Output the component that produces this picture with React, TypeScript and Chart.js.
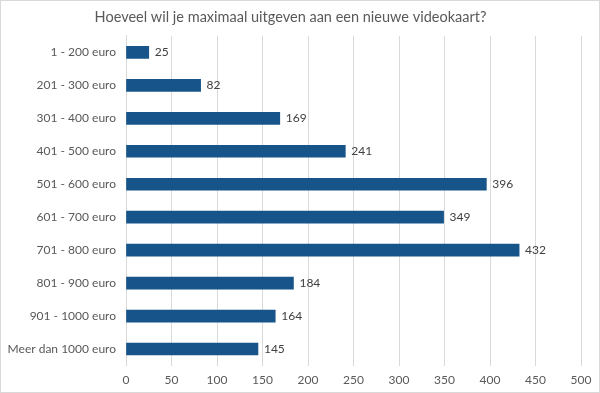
import React, { useEffect, useRef } from "react";
import { Chart, registerables } from "chart.js";

Chart.register(...registerables);

const title = "Hoeveel wil je maximaal uitgeven aan een nieuwe videokaart?";
const categories = [
  "1 - 200 euro",
  "201 - 300 euro",
  "301 - 400 euro",
  "401 - 500 euro",
  "501 - 600 euro",
  "601 - 700 euro",
  "701 - 800 euro",
  "801 - 900 euro",
  "901 - 1000 euro",
  "Meer dan 1000 euro",
];
const values = [25, 82, 169, 241, 396, 349, 432, 184, 164, 145];
const xMin = 0;
const xMax = 500;
const xStep = 50;

const FONT = "Lato, 'Open Sans', sans-serif";
const TEXT = "#595959";
const GRID = "#d9d9d9";
const BAR = "#175489";

const framePlugin = {
  id: "frame",
  beforeDraw(chart: any) {
    const { ctx, width, height } = chart;
    ctx.save();
    ctx.fillStyle = "#ffffff";
    ctx.fillRect(0, 0, width, height);
    ctx.strokeStyle = GRID;
    ctx.lineWidth = 1;
    ctx.strokeRect(0.5, 0.5, width - 1, height - 1);
    ctx.restore();
  },
};

const labelPlugin = {
  id: "barLabels",
  afterDatasetsDraw(chart: any) {
    const { ctx } = chart;
    const meta = chart.getDatasetMeta(0);
    ctx.save();
    ctx.fillStyle = "#404040";
    ctx.font = `12px ${FONT}`;
    ctx.textAlign = "left";
    ctx.textBaseline = "middle";
    meta.data.forEach((el: any, i: number) => {
      ctx.fillText(String(values[i]), el.x + 6, el.y);
    });
    ctx.restore();
  },
};

export default function App() {
  const ref = useRef<HTMLCanvasElement | null>(null);
  useEffect(() => {
    document.body.style.margin = "0";
    if (!ref.current) return;
    const chart = new Chart(ref.current, {
      type: "bar",
      data: {
        labels: categories,
        datasets: [
          {
            data: values,
            backgroundColor: BAR,
            borderWidth: 0,
            barThickness: 12,
          },
        ],
      },
      options: {
        indexAxis: "y",
        animation: false,
        responsive: false,
        maintainAspectRatio: false,
        layout: { padding: { left: 0, right: 19, top: 0, bottom: 0 } },
        plugins: {
          legend: { display: false },
          tooltip: { enabled: false },
          title: {
            display: true,
            text: title,
            color: TEXT,
            font: { family: FONT, size: 14.5, weight: "normal" },
            padding: { top: 8.5, bottom: 10 },
          },
        },
        scales: {
          x: {
            min: xMin,
            max: xMax,
            ticks: {
              stepSize: xStep,
              color: TEXT,
              font: { family: FONT, size: 12 },
              padding: 7,
            },
            grid: { color: GRID, drawTicks: false },
            border: { display: false },
            afterFit(scale: any) {
              scale.height = 27.5;
            },
          },
          y: {
            ticks: {
              color: TEXT,
              font: { family: FONT, size: 12 },
              padding: 10,
            },
            grid: { display: false, drawTicks: false },
            border: { display: true, color: GRID },
            afterFit(scale: any) {
              scale.width = 126;
            },
          },
        },
      },
      plugins: [framePlugin, labelPlugin],
    });
    return () => chart.destroy();
  }, []);
  return (
    <div style={{ width: 600, height: 393 }}>
      <canvas ref={ref} width={600} height={393} style={{ display: "block" }} />
    </div>
  );
}
